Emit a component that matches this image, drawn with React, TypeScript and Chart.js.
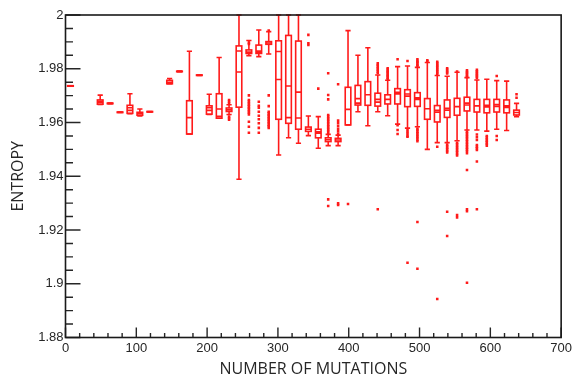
import { useEffect, useRef } from 'react';
import { Chart, registerables } from 'chart.js';

Chart.register(...registerables);

const RED = '#ff1a1a';
const AXIS = '#262626';

// Box positions (number of mutations)
const positions = [7, 49, 63, 77, 91, 105, 119, 147, 161, 175, 189, 203, 217, 231, 245, 259, 273, 287, 301, 315, 329, 343, 357, 371, 385, 399, 413, 427, 441, 455, 469, 483, 497, 511, 525, 539, 553, 567, 581, 595, 609, 623, 637];

const whiskerLow = [1.9735, 1.9667, 1.967, 1.9637, 1.9633, 1.9624, 1.9639, 1.9744, 1.9789, 1.9557, 1.9775, 1.963, 1.9616, 1.963, 1.9389, 1.9849, 1.9845, 1.9855, 1.9479, 1.9543, 1.9523, 1.9551, 1.9504, 1.9514, 1.9514, 1.9591, 1.964, 1.9588, 1.964, 1.9625, 1.9594, 1.9579, 1.9584, 1.95, 1.9525, 1.9525, 1.9532, 1.9572, 1.9572, 1.9568, 1.9575, 1.957, 1.9622];
const q1 = [1.9735, 1.9668, 1.967, 1.9637, 1.9634, 1.9627, 1.9639, 1.9744, 1.9789, 1.9557, 1.9775, 1.9631, 1.9616, 1.9641, 1.9657, 1.9857, 1.9857, 1.9891, 1.9612, 1.9597, 1.9575, 1.9567, 1.9543, 1.9529, 1.9529, 1.9591, 1.9665, 1.9664, 1.9661, 1.9669, 1.9669, 1.9659, 1.966, 1.9612, 1.9602, 1.9619, 1.9627, 1.9643, 1.9639, 1.9636, 1.9639, 1.9636, 1.9628];
const medians = [1.9736, 1.9675, 1.9671, 1.9638, 1.9645, 1.9633, 1.964, 1.975, 1.979, 1.9618, 1.9776, 1.9645, 1.965, 1.9647, 1.9788, 1.9862, 1.9862, 1.9896, 1.976, 1.9736, 1.9713, 1.9575, 1.956, 1.9536, 1.9535, 1.9649, 1.9689, 1.9703, 1.9686, 1.9686, 1.9712, 1.9706, 1.9692, 1.9651, 1.9638, 1.9653, 1.9659, 1.9672, 1.9662, 1.9664, 1.9667, 1.9662, 1.9637];
const means: (number | null)[] = [null, 1.9679, null, null, 1.9655, null, null, null, null, null, null, 1.9655, 1.9623, null, 1.9866, null, 1.9866, null, 1.9864, 1.9618, 1.9617, null, 1.9565, null, null, null, 1.9672, null, 1.9676, null, 1.9706, 1.9698, 1.9686, null, 1.9645, 1.9646, null, 1.9665, null, 1.9658, 1.966, 1.9656, null];
const q3 = [1.9737, 1.9684, 1.9672, 1.9639, 1.9664, 1.9638, 1.9641, 1.9757, 1.9791, 1.9681, 1.9777, 1.9662, 1.9707, 1.9654, 1.9885, 1.987, 1.9888, 1.9901, 1.9904, 1.9924, 1.9903, 1.9583, 1.9575, 1.9543, 1.9541, 1.9731, 1.9738, 1.9752, 1.9709, 1.9703, 1.9726, 1.9722, 1.9711, 1.9689, 1.9663, 1.9684, 1.969, 1.9694, 1.9686, 1.9686, 1.9686, 1.9684, 1.9646];
const whiskerHigh = [1.9737, 1.9702, 1.9672, 1.9639, 1.9707, 1.965, 1.9641, 1.9764, 1.9791, 1.9865, 1.9777, 1.9705, 1.9842, 1.9666, 2.0, 1.9905, 1.9944, 1.9938, 2.0, 2.0, 2.0, 1.9624, 1.9622, 1.9556, 1.9553, 1.9942, 1.985, 1.9878, 1.9777, 1.9757, 1.9808, 1.981, 1.9805, 1.9823, 1.9775, 1.9772, 1.9787, 1.9767, 1.9758, 1.9761, 1.9756, 1.9754, 1.9671];

const outliers: number[][] = [
  [], [], [], [], [], [], [], [], [], [], [], [], [],
  [1.9684, 1.9678, 1.9672, 1.9622, 1.9616, 1.961],
  [],
  [1.9892, 1.9898, 1.9701, 1.9684, 1.9678, 1.9672, 1.9666, 1.966, 1.9654, 1.9648, 1.9642, 1.9636, 1.963, 1.9603, 1.9584, 1.9562],
  [1.9677, 1.9662, 1.9655, 1.964, 1.9625, 1.9612, 1.9597, 1.958, 1.9562],
  [1.9942, 1.9701, 1.9661, 1.964, 1.9634, 1.9628, 1.9622, 1.9616, 1.961, 1.9604, 1.9598, 1.9592, 1.9586, 1.958],
  [], [], [],
  [1.9926, 1.9895, 1.9888],
  [1.9726],
  [1.9783, 1.9702, 1.9686, 1.9628, 1.9622, 1.9616, 1.961, 1.9604, 1.9598, 1.9592, 1.9586, 1.958, 1.9574, 1.9568, 1.9562, 1.9314, 1.9289],
  [1.9742, 1.9607, 1.9597, 1.9587, 1.9577, 1.9567, 1.9557, 1.9299, 1.9293],
  [1.9297],
  [], [],
  [1.982, 1.9814, 1.9808, 1.9802, 1.9796, 1.979, 1.9784, 1.9277],
  [1.9802, 1.9797, 1.9792, 1.9787, 1.9782, 1.9777, 1.9772, 1.9767, 1.9762],
  [1.9835, 1.959, 1.9572, 1.9557],
  [1.9829, 1.9572, 1.9565, 1.9558, 1.955, 1.9547, 1.9078],
  [1.9835, 1.983, 1.9825, 1.982, 1.9815, 1.981, 1.9578, 1.9572, 1.9566, 1.956, 1.9554, 1.9548, 1.9542, 1.9536, 1.953, 1.923, 1.9056],
  [1.9832, 1.9828],
  [1.9826, 1.9821, 1.9816, 1.9811, 1.9806, 1.9801, 1.9796, 1.9791, 1.9786, 1.9781, 1.951, 1.8943],
  [1.9802, 1.9797, 1.9792, 1.9787, 1.9782, 1.9518, 1.9512, 1.9506, 1.95, 1.9494, 1.9488, 1.9268, 1.9178],
  [1.979, 1.9525, 1.9519, 1.9513, 1.9507, 1.9501, 1.9495, 1.9489, 1.9483, 1.9477, 1.9256, 1.9247],
  [1.9794, 1.9789, 1.9784, 1.9779, 1.9774, 1.9769, 1.9566, 1.956, 1.9554, 1.9548, 1.9542, 1.9536, 1.953, 1.9524, 1.9518, 1.9512, 1.9506, 1.95, 1.9494, 1.9486, 1.9423, 1.9277, 1.927, 1.9004],
  [1.9796, 1.9791, 1.9786, 1.9781, 1.9776, 1.9771, 1.9766, 1.9555, 1.9545, 1.9535, 1.9516, 1.951, 1.9504, 1.9498, 1.9455, 1.9277],
  [1.955, 1.9544, 1.9538, 1.9532, 1.9526, 1.952, 1.9514],
  [1.9773, 1.955, 1.9535],
  [],
  [1.9705, 1.9692],
];

const xTicks = [0, 100, 200, 300, 400, 500, 600, 700];
const xTickLabels = ['0', '100', '200', '300', '400', '500', '600', '700'];
const yTicks = [1.88, 1.9, 1.92, 1.94, 1.96, 1.98, 2];
const yTickLabels = ['1.88', '1.9', '1.92', '1.94', '1.96', '1.98', '2'];
const xMinorPerMajor = 5;
const yMinorPerMajor = 4;

const xTitle = 'NUMBER OF MUTATIONS';
const yTitle = 'ENTROPY';

const boxPlugin = {
  id: 'boxplots',
  afterDatasetsDraw(chart: any) {
    const { ctx, chartArea, scales } = chart;
    const xs = scales.x;
    const ys = scales.y;
    ctx.save();
    ctx.beginPath();
    ctx.rect(chartArea.left, chartArea.top - 1, chartArea.right - chartArea.left, chartArea.bottom - chartArea.top + 1);
    ctx.clip();
    ctx.strokeStyle = RED;
    ctx.lineWidth = 1.6;
    const hw = 2.8;
    const cw = 2.6;
    positions.forEach((pos, i) => {
      const cx = xs.getPixelForValue(pos);
      const yLo = ys.getPixelForValue(whiskerLow[i]);
      const yHi = ys.getPixelForValue(whiskerHigh[i]);
      const yQ1 = ys.getPixelForValue(q1[i]);
      const yQ3 = ys.getPixelForValue(q3[i]);
      const yMed = ys.getPixelForValue(medians[i]);
      ctx.beginPath();
      ctx.moveTo(cx, yLo);
      ctx.lineTo(cx, yQ1);
      ctx.moveTo(cx, yQ3);
      ctx.lineTo(cx, yHi);
      ctx.moveTo(cx - cw, yLo);
      ctx.lineTo(cx + cw, yLo);
      ctx.moveTo(cx - cw, yHi);
      ctx.lineTo(cx + cw, yHi);
      ctx.stroke();
      ctx.strokeRect(cx - hw, yQ3, hw * 2, Math.max(yQ1 - yQ3, 0.5));
      ctx.beginPath();
      ctx.moveTo(cx - hw, yMed);
      ctx.lineTo(cx + hw, yMed);
      const m = means[i];
      if (m !== null) {
        const yMean = ys.getPixelForValue(m);
        ctx.moveTo(cx - hw, yMean);
        ctx.lineTo(cx + hw, yMean);
      }
      ctx.stroke();
    });
    ctx.restore();
  },
  afterDraw(chart: any) {
    const { ctx, chartArea, scales } = chart;
    const xs = scales.x;
    const ys = scales.y;
    const { left, right, top, bottom } = chartArea;
    ctx.save();
    ctx.strokeStyle = AXIS;
    ctx.lineWidth = 1.4;
    ctx.beginPath();
    for (let k = 0; k < yTicks.length; k++) {
      const py = ys.getPixelForValue(yTicks[k]);
      ctx.moveTo(left, py);
      ctx.lineTo(left + 15, py);
      if (k < yTicks.length - 1) {
        const step = (yTicks[k + 1] - yTicks[k]) / yMinorPerMajor;
        for (let j = 1; j < yMinorPerMajor; j++) {
          const my = ys.getPixelForValue(yTicks[k] + step * j);
          ctx.moveTo(left, my);
          ctx.lineTo(left + 7.5, my);
        }
      }
    }
    for (let k = 0; k < xTicks.length; k++) {
      const px = xs.getPixelForValue(xTicks[k]);
      ctx.moveTo(px, bottom);
      ctx.lineTo(px, bottom - 10);
      if (k < xTicks.length - 1) {
        const step = (xTicks[k + 1] - xTicks[k]) / xMinorPerMajor;
        for (let j = 1; j < xMinorPerMajor; j++) {
          const mx = xs.getPixelForValue(xTicks[k] + step * j);
          ctx.moveTo(mx, bottom);
          ctx.lineTo(mx, bottom - 4.5);
        }
      }
    }
    ctx.stroke();
    ctx.lineWidth = 1.6;
    ctx.strokeStyle = '#1a1a1a';
    ctx.strokeRect(left, top, right - left, bottom - top);
    ctx.restore();
  },
};

export default function App() {
  const canvasRef = useRef<HTMLCanvasElement | null>(null);

  useEffect(() => {
    document.body.style.margin = '0';
    const canvas = canvasRef.current;
    if (!canvas) return;
    const points: { x: number; y: number }[] = [];
    positions.forEach((pos, i) => {
      outliers[i].forEach((v) => points.push({ x: pos, y: v }));
    });
    const tickFont = { family: '"Liberation Sans", Arial, sans-serif', size: 13 };
    const titleFont = { family: '"Open Sans", "Noto Sans", sans-serif', size: 16 };
    const chart = new Chart(canvas, {
      type: 'scatter',
      data: {
        datasets: [
          {
            data: points,
            pointStyle: 'rect',
            pointRadius: 1.8,
            pointHoverRadius: 1.8,
            backgroundColor: RED,
            borderColor: RED,
            borderWidth: 0,
          },
        ],
      },
      options: {
        responsive: false,
        animation: false,
        devicePixelRatio: 1,
        layout: { padding: { top: 15, right: 10.5, left: 0, bottom: 0 } },
        plugins: { legend: { display: false }, tooltip: { enabled: false } },
        scales: {
          x: {
            type: 'linear',
            min: 0,
            max: 700,
            afterBuildTicks: (s: any) => {
              s.ticks = xTicks.map((v) => ({ value: v }));
            },
            afterFit: (s: any) => {
              s.height = 41.5;
            },
            grid: { display: false, drawTicks: false },
            border: { display: false },
            ticks: {
              padding: 3,
              font: tickFont,
              color: AXIS,
              maxRotation: 0,
              autoSkip: false,
              callback: (_v: any, i: number) => xTickLabels[i],
            },
            title: {
              display: true,
              text: xTitle,
              font: titleFont,
              color: AXIS,
              padding: { top: 0, bottom: 0 },
            },
          },
          y: {
            type: 'linear',
            min: 1.88,
            max: 2,
            afterBuildTicks: (s: any) => {
              s.ticks = yTicks.map((v) => ({ value: v }));
            },
            afterFit: (s: any) => {
              s.width = 65.5;
            },
            grid: { display: false, drawTicks: false },
            border: { display: false },
            ticks: {
              padding: 2,
              font: tickFont,
              color: AXIS,
              autoSkip: false,
              callback: (_v: any, i: number) => yTickLabels[i],
            },
            title: {
              display: true,
              text: yTitle,
              font: titleFont,
              color: AXIS,
              padding: { top: 9, bottom: 0 },
            },
          },
        },
      } as any,
      plugins: [boxPlugin],
    });
    return () => chart.destroy();
  }, []);

  return (
    <div style={{ width: 575, height: 379 }}>
      <canvas ref={canvasRef} width={575} height={379} style={{ display: 'block' }} />
    </div>
  );
}
